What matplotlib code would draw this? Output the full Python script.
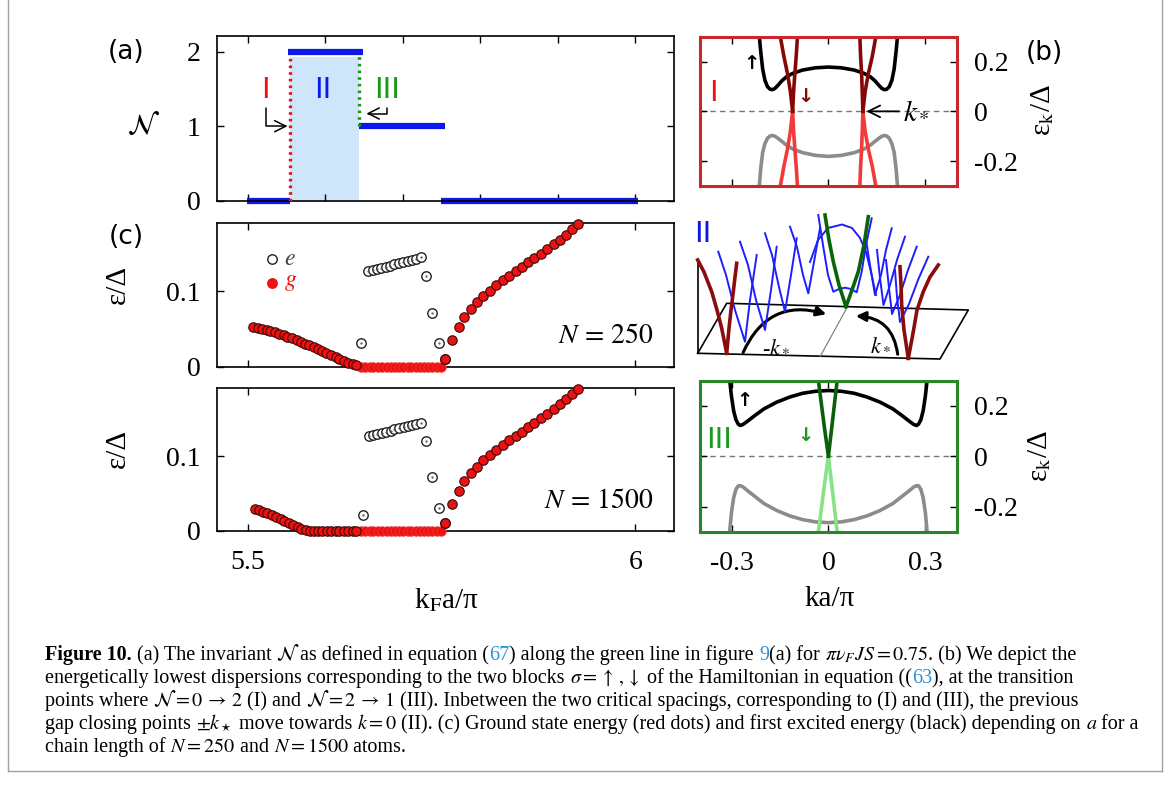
import matplotlib
matplotlib.use('Agg')
import matplotlib.pyplot as plt
from matplotlib.patches import FancyArrowPatch
from matplotlib.lines import Line2D

W, H = 1171, 785

# ---------------- data ----------------
# (a) invariant N along the green line
seg_start = [5.499, 5.552, 5.643, 5.749]
seg_end = [5.554, 5.649, 5.754, 6.004]
seg_value = [0, 2, 1, 0]
crit_I = 5.554
crit_III = 5.643
region_II_top = 1.93

# (c) ground state g (red) and first excited e (open) energies
desc250_x = [5.507, 5.513, 5.518, 5.524, 5.529, 5.535, 5.540, 5.546, 5.551, 5.557, 5.563, 5.568, 5.574,
             5.579, 5.585, 5.590, 5.596, 5.601, 5.607, 5.613, 5.618, 5.624, 5.629, 5.635, 5.640]
desc250_y = [0.0533, 0.0515, 0.0500, 0.0485, 0.0470, 0.0455, 0.0438, 0.0420, 0.0400, 0.0379, 0.0356, 0.0333,
             0.0308, 0.0283, 0.0258, 0.0232, 0.0205, 0.0178, 0.0152, 0.0125, 0.0100, 0.0077, 0.0055, 0.0035, 0.0020]
desc1500_x = [5.509, 5.514, 5.520, 5.525, 5.531, 5.536, 5.542, 5.547, 5.553, 5.558, 5.564, 5.569, 5.575,
              5.580, 5.585, 5.591, 5.596, 5.602, 5.607, 5.613, 5.618, 5.624, 5.629, 5.635, 5.640]
desc1500_y = [0.0300, 0.0278, 0.0258, 0.0238, 0.0215, 0.0190, 0.0163, 0.0137, 0.0110, 0.0082, 0.0055, 0.0030,
              0.0012, 0.0005, 0.0003, 0.0002, 0.0002, 0.0001, 0.0001, 0.0001, 0.0001, 0.0, 0.0, 0.0, 0.0]
flat_x = [5.646, 5.651, 5.657, 5.662, 5.668, 5.673, 5.679, 5.684, 5.690, 5.695, 5.700, 5.706, 5.711,
          5.717, 5.722, 5.727, 5.733, 5.738, 5.744, 5.749]
flat_y = [0.0] * 20
rise_x = [5.7548, 5.7632, 5.7718, 5.779, 5.7877, 5.7963, 5.804, 5.8126, 5.8204, 5.829, 5.8372, 5.8458,
          5.8543, 5.862, 5.8698, 5.878, 5.8863, 5.8946, 5.903, 5.911, 5.9185, 5.9265]
rise_y = [0.0103, 0.0356, 0.0533, 0.0667, 0.0769, 0.0859, 0.0943, 0.1009, 0.1080, 0.1147, 0.1209, 0.1267,
          0.1325, 0.1387, 0.1445, 0.1503, 0.1560, 0.1625, 0.1690, 0.1757, 0.1825, 0.1899]
exc250_x = [5.6462, 5.655, 5.661, 5.666, 5.672, 5.678, 5.683, 5.689, 5.695, 5.700, 5.706, 5.712, 5.717,
            5.723, 5.7301, 5.7382, 5.7468, 5.7548]
exc250_y = [0.0311, 0.1267, 0.1282, 0.1297, 0.1313, 0.1328, 0.1344, 0.1359, 0.1375, 0.1390, 0.1406, 0.1421,
            0.1437, 0.1453, 0.1210, 0.0720, 0.0311, 0.0103]
exc1500_x = [5.6484, 5.656, 5.661, 5.667, 5.673, 5.678, 5.684, 5.689, 5.695, 5.701, 5.706, 5.712, 5.717,
             5.723, 5.7301, 5.7382, 5.7468, 5.7548]
exc1500_y = [0.0213, 0.1270, 0.1284, 0.1299, 0.1313, 0.1328, 0.1342, 0.1357, 0.1371, 0.1386, 0.1400, 0.1415,
             0.1429, 0.1444, 0.1204, 0.0716, 0.0311, 0.0103]

# (b) dispersions at transition I
b_k = [-0.215, -0.210, -0.204, -0.197, -0.189, -0.181, -0.174, -0.166, -0.157, -0.145, -0.130, -0.110, -0.080,
       -0.040, 0.000, 0.040, 0.080, 0.110, 0.130, 0.145, 0.157, 0.166, 0.174, 0.181, 0.189, 0.197, 0.204, 0.210, 0.215]
b_up = [0.310, 0.240, 0.170, 0.125, 0.099, 0.089, 0.087, 0.092, 0.104, 0.122, 0.139, 0.153, 0.166, 0.175, 0.178,
        0.175, 0.166, 0.153, 0.139, 0.122, 0.104, 0.092, 0.087, 0.089, 0.099, 0.125, 0.170, 0.240, 0.310]
b_dn = [-0.310, -0.230, -0.165, -0.130, -0.108, -0.099, -0.097, -0.100, -0.108, -0.120, -0.136, -0.152, -0.166,
        -0.177, -0.181, -0.177, -0.166, -0.152, -0.136, -0.120, -0.108, -0.100, -0.097, -0.099, -0.108, -0.130,
        -0.165, -0.230, -0.310]
b_red_E_hi = [0.32, 0.22, 0.152, 0.08, 0.0]
b_red_E_lo = [-0.32, -0.22, -0.152, -0.08, 0.0]
b_red_left_a = [-0.152, -0.138, -0.127, -0.118, -0.111]
b_red_left_b = [-0.095, -0.100, -0.104, -0.108, -0.111]
b_red_right_a = [0.150, 0.136, 0.124, 0.114, 0.107]
b_red_right_b = [0.097, 0.100, 0.103, 0.105, 0.107]

# (III) dispersions at transition III
c_k = [-0.307, -0.301, -0.294, -0.287, -0.280, -0.274, -0.265, -0.250, -0.230, -0.200, -0.160, -0.120, -0.080,
       -0.040, 0.000, 0.040, 0.080, 0.120, 0.160, 0.200, 0.230, 0.250, 0.265, 0.274, 0.280, 0.287, 0.294, 0.301, 0.307]
c_up = [0.310, 0.240, 0.180, 0.145, 0.128, 0.122, 0.126, 0.140, 0.160, 0.188, 0.215, 0.235, 0.250, 0.258, 0.261,
        0.258, 0.250, 0.235, 0.215, 0.188, 0.160, 0.140, 0.126, 0.122, 0.128, 0.145, 0.180, 0.240, 0.310]
c_dn = [-0.310, -0.225, -0.165, -0.132, -0.118, -0.117, -0.122, -0.138, -0.158, -0.188, -0.216, -0.237, -0.252,
        -0.261, -0.264, -0.261, -0.252, -0.237, -0.216, -0.188, -0.158, -0.138, -0.122, -0.117, -0.118, -0.132,
        -0.165, -0.225, -0.310]
c_green_E_hi = [0.32, 0.21, 0.12, 0.055, 0.0]
c_green_E_lo = [-0.32, -0.21, -0.12, -0.055, 0.0]
c_green_a = [-0.033, -0.022, -0.013, -0.006, 0.0]
c_green_b = [0.029, 0.019, 0.011, 0.005, 0.0]

# (II) schematic, drawn in picture pixels
plane_x = [697.7, 940, 968.3, 726.7, 697.7]
plane_y = [353.3, 359, 310, 303.3, 353.3]
red_strokes = [
    ([697.7, 704, 711.7, 717, 721.7, 726.7], [260, 272, 291.7, 310, 328.3, 353.3]),
    ([736.7, 735, 733.3, 731, 729, 726.7], [263.3, 277, 291.7, 310, 328.3, 353.3]),
    ([900, 901, 901.7, 904, 908.3], [266.7, 285, 305, 330, 358.3]),
    ([938.3, 930, 923.3, 917, 913.3, 908.3], [265, 277, 291.7, 310, 331.7, 358.3]),
]
green_strokes = [
    ([825, 829, 833.3, 839, 846], [215, 240, 261.7, 285, 306.7]),
    ([868.3, 864, 858.3, 852, 846], [216.7, 245, 271.7, 290, 306.7]),
]
blue_strokes = [
    ([718.3, 726, 735, 745, 750, 756.7], [251.7, 275, 310, 341.7, 300, 255]),
    ([740, 748, 756, 765, 771, 776.7], [241.7, 265, 300, 330, 290, 246.7]),
    ([765, 772, 779, 785, 791, 796.7], [233.3, 255, 287, 311.7, 275, 238.3]),
    ([790, 797, 803, 808.3, 814, 820], [226.7, 247, 275, 293.3, 262, 228.3]),
    ([818.3, 823, 828, 833.3, 839, 845, 851, 856.7, 861.7, 866, 871.7],
     [215, 245, 275, 291.7, 289, 287.7, 289, 292.3, 271.7, 245, 218.3]),
    ([810, 818, 828, 842, 852, 860, 866, 871, 876], [262, 240, 228, 224.5, 228, 238, 252, 272, 295]),
    ([866, 870, 875, 881, 886, 891.7], [240, 265, 295, 275, 250, 228.3]),
    ([877, 880, 883.5, 890, 897, 905], [250, 278, 305, 285, 260, 236.7]),
    ([886, 889, 892, 900, 908, 916.7], [260, 288, 314, 295, 270, 246.7]),
    ([895, 897, 900, 909, 918, 928.3], [270, 297, 322, 304, 280, 256.7]),
]

# ---------------- style ----------------
plt.rcParams['font.family'] = ['Liberation Serif', 'DejaVu Serif']
plt.rcParams['mathtext.fontset'] = 'stix'
plt.rcParams['axes.unicode_minus'] = False
plt.rcParams['font.size'] = 20

BLUE = '#0b18e8'
RED = '#ee1111'
GREEN = '#1a9a1a'
SANS = 'DejaVu Sans'

fig = plt.figure(figsize=(W / 100, H / 100), dpi=100)


def px_axes(l, t, r, b):
    return fig.add_axes([l / W, 1 - b / H, (r - l) / W, (b - t) / H])


def fx(x):
    return x / W


def fy(y):
    return 1 - y / H


def inward(ax, **kw):
    ax.tick_params(direction='in', length=5, width=1, top=True, right=True, pad=12, **kw)


# ---------------- (a) ----------------
axa = px_axes(217, 36, 674, 200.7)
axa.set_xlim(5.46, 6.05)
axa.set_ylim(0, 2.21)
axa.fill_between([crit_I, crit_III], 0, region_II_top, color='#cfe6fa', lw=0, zorder=0)
axa.hlines(seg_value, seg_start, seg_end, colors=BLUE, lw=4.5, clip_on=False, zorder=2)
axa.vlines(crit_I, 0, 1.95, colors=RED, linestyles=(0, (0.8, 1.2)), lw=2.4, zorder=3)
axa.vlines(crit_III, 1.0, 1.95, colors=GREEN, linestyles=(0, (0.8, 1.2)), lw=2.4, zorder=3)
axa.annotate('', xy=(5.551, 1.0), xytext=(5.523, 1.24),
             arrowprops=dict(arrowstyle='->', lw=1.1, color='k', shrinkA=0, shrinkB=0,
                             connectionstyle='angle,angleA=90,angleB=0,rad=0'))
axa.annotate('', xy=(5.653, 1.17), xytext=(5.679, 1.25),
             arrowprops=dict(arrowstyle='->', lw=1.1, color='k', shrinkA=0, shrinkB=0,
                             connectionstyle='angle,angleA=90,angleB=0,rad=0'))
axa.text(5.523, 1.48, 'I', color=RED, family=SANS, fontsize=21, ha='center', va='center')
axa.text(5.597, 1.48, 'II', color=BLUE, family=SANS, fontsize=21, ha='center', va='center')
axa.text(5.679, 1.48, 'III', color=GREEN, family=SANS, fontsize=21, ha='center', va='center')
axa.set_xticks([5.5, 5.6, 5.7, 5.8, 5.9, 6.0])
axa.set_xticklabels([])
axa.set_yticks([0, 1, 2])
axa.set_yticklabels(['0', '1', '2'])
inward(axa)
for s in axa.spines.values():
    s.set_linewidth(1.2)
fig.text(fx(143), fy(126), r'$\mathcal{N}$', fontsize=21, ha='center', va='center')
fig.text(fx(126), fy(52), '(a)', family=SANS, fontsize=19, ha='center', va='center')


# ---------------- (c) ----------------
def energy_panel(ax, desc_x, desc_y, exc_x, exc_y, label):
    ax.set_xlim(5.46, 6.05)
    ax.set_ylim(0, 0.1906)
    ax.plot(flat_x, flat_y, 'o', ms=6.8, mfc=RED, mec='#f03030', mew=0.6, clip_on=False, zorder=3)
    ax.plot(exc_x, exc_y, 'o', ms=6.8, mfc='white', mec='#222222', mew=1.0, clip_on=False, zorder=4)
    ax.plot(exc_x, exc_y, '.', ms=1.2, color='#555555', zorder=4)
    ax.plot(desc_x, desc_y, 'o', ms=6.8, mfc=RED, mec='#3a0a0a', mew=0.8, clip_on=False, zorder=5)
    ax.plot(rise_x, rise_y, 'o', ms=6.8, mfc=RED, mec='#3a0a0a', mew=0.8, clip_on=False, zorder=5)
    ax.text(0.955, 0.21, label, transform=ax.transAxes, fontsize=20, ha='right', va='center')
    ax.set_xticks([5.5, 6.0])
    ax.set_yticks([0, 0.1])
    ax.set_yticklabels(['0', '0.1'])
    inward(ax)
    for s in ax.spines.values():
        s.set_linewidth(1.2)


axc1 = px_axes(217, 223.3, 674, 366.7)
energy_panel(axc1, desc250_x, desc250_y, exc250_x, exc250_y, r'$N\,=\,250$')
axc1.set_xticklabels([])
axc1.plot([0.1197], [0.75], 'o', ms=6.8, mfc='white', mec='#222222', mew=1.0, transform=axc1.transAxes)
axc1.plot([0.1197], [0.585], 'o', ms=6.8, mfc=RED, mec=RED, transform=axc1.transAxes)
axc1.text(0.146, 0.75, r'$e$', color='#444444', fontsize=17, transform=axc1.transAxes, va='center')
axc1.text(0.146, 0.585, r'$g$', color=RED, fontsize=17, transform=axc1.transAxes, va='center')

axc2 = px_axes(217, 388.3, 674, 531)
energy_panel(axc2, desc1500_x, desc1500_y, exc1500_x, exc1500_y, r'$N\,=\,1500$')
axc2.set_xticklabels(['5.5', '6'])
axc2.tick_params(axis='x', pad=14)

fig.text(fx(126), fy(237), '(c)', family=SANS, fontsize=19, ha='center', va='center')
fig.text(fx(118), fy(284), 'ε/Δ', fontsize=21, rotation=90, ha='center', va='center')
fig.text(fx(118), fy(448), 'ε/Δ', fontsize=21, rotation=90, ha='center', va='center')
fig.text(fx(446), fy(600), r'k$_\mathrm{F}$a/π', fontsize=21, ha='center', va='center')


# ---------------- (b) and (III) ----------------
def dispersion_panel(ax, frame):
    ax.set_xlim(-0.4, 0.4)
    ax.set_ylim(-0.3, 0.3)
    ax.axhline(0, color='#777777', lw=1.0, ls=(0, (4, 3)), zorder=1)
    ax.set_xticks([-0.3, 0, 0.3])
    ax.set_yticks([-0.2, 0, 0.2])
    ax.set_yticklabels(['-0.2', '0', '0.2'])
    inward(ax, labelleft=False, labelright=True)
    for s in ax.spines.values():
        s.set_color(frame)
        s.set_linewidth(2.2)
        s.set_zorder(6)


axb = px_axes(699.5, 36.7, 957.3, 186)
dispersion_panel(axb, '#c8282d')
axb.set_xticklabels([])
axb.plot(b_k, b_dn, color='#8c8c8c', lw=2.6, zorder=2)
axb.plot(b_k, b_up, color='black', lw=2.6, zorder=2)
for kk in (b_red_left_a, b_red_left_b, b_red_right_a, b_red_right_b):
    axb.plot(kk, b_red_E_lo, color='#f23a3a', lw=2.6, zorder=3)
    axb.plot(kk, b_red_E_hi, color='#850808', lw=2.6, zorder=3)
axb.text(-0.358, 0.073, 'I', color=RED, family=SANS, fontsize=21, ha='center', va='center')
axb.text(-0.238, 0.192, '↑', color='black', family=SANS, fontsize=14, fontweight='bold', ha='center', va='center')
axb.text(-0.072, 0.058, '↓', color='#850808', family=SANS, fontsize=14, fontweight='bold', ha='center', va='center')
axb.annotate(r'$k_*$', xy=(0.118, 0), xytext=(0.232, 0), fontsize=21, va='center', ha='left',
             arrowprops=dict(arrowstyle='->', lw=1.3, color='k', shrinkA=1, shrinkB=0))
fig.text(fx(1044), fy(53), '(b)', family=SANS, fontsize=19, ha='center', va='center')
fig.text(fx(1043), fy(110), r'ε$_\mathrm{k}$/Δ', fontsize=21, rotation=90, ha='center', va='center')

axd = px_axes(699.5, 380.7, 957.3, 531.7)
dispersion_panel(axd, '#2b862b')
axd.set_xticklabels(['-0.3', '0', '0.3'])
axd.tick_params(axis='x', pad=14)
axd.plot(c_k, c_dn, color='#8c8c8c', lw=2.6, zorder=2)
axd.plot(c_k, c_up, color='black', lw=2.6, zorder=2)
for kk in (c_green_a, c_green_b):
    axd.plot(kk, c_green_E_lo, color='#86e486', lw=2.6, zorder=3)
    axd.plot(kk, c_green_E_hi, color='#0a5f0a', lw=2.6, zorder=3)
axd.text(-0.34, 0.063, 'III', color=GREEN, family=SANS, fontsize=21, ha='center', va='center')
axd.text(-0.259, 0.222, '↑', color='black', family=SANS, fontsize=14, fontweight='bold', ha='center', va='center')
axd.text(-0.072, 0.083, '↓', color=GREEN, family=SANS, fontsize=14, fontweight='bold', ha='center', va='center')
fig.text(fx(1040), fy(456), r'ε$_\mathrm{k}$/Δ', fontsize=21, rotation=90, ha='center', va='center')
fig.text(fx(830), fy(599), 'ka/π', fontsize=21, ha='center', va='center')

# ---------------- (II) schematic ----------------
axs = px_axes(680, 200, 985, 380)
axs.set_xlim(680, 985)
axs.set_ylim(380, 200)
axs.axis('off')
axs.plot(plane_x, plane_y, color='black', lw=1.2)
axs.plot([697.7, 697.7], [353.3, 261.7], color='black', lw=1.2)
axs.plot([820, 846], [356.7, 309.5], color='#777777', lw=0.8)
for xs, ys in blue_strokes:
    axs.plot(xs, ys, color='#1e1eff', lw=1.4)
for xs, ys in red_strokes:
    axs.plot(xs, ys, color='#8a0c0c', lw=2.6)
for xs, ys in green_strokes:
    axs.plot(xs, ys, color='#0a650a', lw=2.6)
axs.add_patch(FancyArrowPatch((742, 355), (829, 315), connectionstyle='arc3,rad=-0.45',
                              arrowstyle='-|>', mutation_scale=14, lw=2.2, color='black'))
axs.add_patch(FancyArrowPatch((898, 357), (853, 316), connectionstyle='arc3,rad=0.45',
                              arrowstyle='-|>', mutation_scale=14, lw=2.2, color='black'))
axs.text(776, 347, r'-$k_*$', fontsize=16, ha='center', va='center')
axs.text(880, 346, r'$k_*$', fontsize=16, ha='center', va='center')
axs.text(703, 234, 'II', color=BLUE, family=SANS, fontsize=21, ha='center', va='center')

# ---------------- caption ----------------
LINK = '#2a93d5'
cap_lines = [
    [('Figure 10.', 'k', 'bold'), (' (a) The invariant ', 'k', 'normal'), (r'$\mathcal{N}\;$', 'k', 'normal'),
     ('as defined in equation (', 'k', 'normal'), ('67', LINK, 'normal'),
     (') along the green line in figure ', 'k', 'normal'), ('9', LINK, 'normal'), ('(a) for ', 'k', 'normal'),
     (r'$\pi\nu_F JS = 0.75$', 'k', 'normal'), ('. (b) We depict the', 'k', 'normal')],
    [('energetically lowest dispersions corresponding to the two blocks ', 'k', 'normal'),
     (r'$\sigma = \uparrow\,,\downarrow$', 'k', 'normal'),
     (' of the Hamiltonian in equation ((', 'k', 'normal'), ('63', LINK, 'normal'),
     ('), at the transition', 'k', 'normal')],
    [('points where ', 'k', 'normal'), (r'$\mathcal{N} = 0\,\rightarrow\,2$', 'k', 'normal'),
     (' (I) and ', 'k', 'normal'), (r'$\mathcal{N} = 2\,\rightarrow\,1$', 'k', 'normal'),
     (' (III). Inbetween the two critical spacings, corresponding to (I) and (III), the previous', 'k', 'normal')],
    [('gap closing points ', 'k', 'normal'), (r'$\pm k_\star$', 'k', 'normal'),
     (' move towards ', 'k', 'normal'), (r'$k = 0$', 'k', 'normal'),
     (' (II). (c) Ground state energy (red dots) and first excited energy (black) depending on ', 'k', 'normal'),
     (r'$a$', 'k', 'normal'), (' for a', 'k', 'normal')],
    [('chain length of ', 'k', 'normal'), (r'$N = 250$', 'k', 'normal'), (' and ', 'k', 'normal'),
     (r'$N = 1500$', 'k', 'normal'), (' atoms.', 'k', 'normal')],
]
cap_base = [660, 683, 706, 729, 752]

renderer = fig.canvas.get_renderer()


def piece_width(s, size, weight):
    t1 = fig.text(0, 0, s + '|', fontsize=size, fontweight=weight)
    t2 = fig.text(0, 0, '|', fontsize=size, fontweight=weight)
    w = t1.get_window_extent(renderer).width - t2.get_window_extent(renderer).width
    t1.remove()
    t2.remove()
    return w


cap_size = 13
w4 = sum(piece_width(s, cap_size, wt) for s, c, wt in cap_lines[3])
cap_size = cap_size * 1095 / w4

for pieces, yb in zip(cap_lines, cap_base):
    x = 45
    for s, c, wt in pieces:
        fig.text(fx(x), fy(yb), s, color=c, fontsize=cap_size, fontweight=wt, va='baseline')
        x += piece_width(s, cap_size, wt)

# page frame
for xs, ys in (([8, 8], [0, 771]), ([1162, 1162], [0, 771]), ([8, 1162], [771, 771])):
    fig.add_artist(Line2D([fx(v) for v in xs], [fy(v) for v in ys], color='#a0a0a0', lw=1.0))

fig.savefig('out.png', dpi=100)
